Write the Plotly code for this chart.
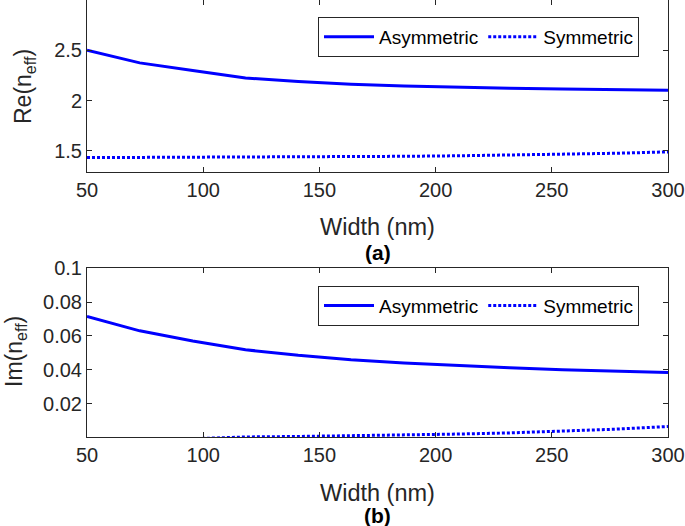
import plotly.graph_objects as go

width_nm = [50, 72.7, 95.5, 118.2, 140.9, 163.6, 186.4, 209.1, 231.8, 254.5, 277.3, 300]
re_asym = [2.50, 2.375, 2.30, 2.225, 2.19, 2.163, 2.145, 2.132, 2.122, 2.115, 2.108, 2.103]
re_sym = [1.433, 1.434, 1.435, 1.437, 1.439, 1.442, 1.446, 1.451, 1.457, 1.465, 1.476, 1.49]
im_asym = [0.0715, 0.063, 0.057, 0.0518, 0.0485, 0.0459, 0.0440, 0.0424, 0.0411, 0.0400, 0.0391, 0.0384]
im_sym = [-0.003, -0.002, -0.001, 0.0002, 0.0005, 0.0009, 0.0013, 0.0019, 0.0026, 0.0035, 0.0048, 0.0064]

x_ticks = [50, 100, 150, 200, 250, 300]
re_ticks = [1.5, 2, 2.5]
im_ticks = [0.02, 0.04, 0.06, 0.08, 0.1]

W, H = 685, 526
BLUE = "#0000ff"
AX = "#262626"
FONT = "Liberation Sans, Arial, Helvetica, sans-serif"
SOLID = dict(color=BLUE, width=3)
DOTTED = dict(color=BLUE, width=3, dash="3px,2px")

def px_x(p):
    return p / W

def px_y(p):
    return 1 - p / H

fig = go.Figure()
fig.add_trace(go.Scatter(x=width_nm, y=re_asym, mode="lines", name="Asymmetric",
                         line=SOLID, xaxis="x", yaxis="y", legend="legend"))
fig.add_trace(go.Scatter(x=width_nm, y=re_sym, mode="lines", name="Symmetric",
                         line=DOTTED, xaxis="x", yaxis="y", legend="legend"))
fig.add_trace(go.Scatter(x=width_nm, y=im_asym, mode="lines", name="Asymmetric",
                         line=SOLID, xaxis="x2", yaxis="y2", legend="legend2"))
fig.add_trace(go.Scatter(x=width_nm, y=im_sym, mode="lines", name="Symmetric",
                         line=DOTTED, xaxis="x2", yaxis="y2", legend="legend2"))

xdom = [px_x(87), px_x(668)]
axis_common = dict(showline=True, linecolor=AX, linewidth=1, mirror="allticks",
                   ticks="inside", ticklen=5, tickcolor=AX, tickwidth=1,
                   showgrid=False, zeroline=False, automargin=False,
                   tickfont=dict(size=20, color=AX, family=FONT))

legend_common = dict(orientation="h", xanchor="left", yanchor="top",
                     bordercolor=AX, borderwidth=1, bgcolor="white",
                     font=dict(size=19, color="black", family=FONT), itemwidth=50)

fig.update_layout(
    width=W, height=H, autosize=False,
    margin=dict(l=0, r=0, t=0, b=0),
    paper_bgcolor="white", plot_bgcolor="white",
    font=dict(family=FONT, color=AX),
    xaxis=dict(domain=xdom, range=[50, 300], tickvals=x_ticks, anchor="y", **axis_common),
    yaxis=dict(domain=[px_y(172), 1], range=[1.29, 3.0], tickvals=re_ticks, anchor="x", **axis_common),
    xaxis2=dict(domain=xdom, range=[50, 300], tickvals=x_ticks, anchor="y2", **axis_common),
    yaxis2=dict(domain=[px_y(437.3), px_y(268.3)], range=[0, 0.1], tickvals=im_ticks,
                ticktext=["0.02", "0.04", "0.06", "0.08", "0.1"], anchor="x2", **axis_common),
    legend=dict(x=px_x(318), y=px_y(17), **legend_common),
    legend2=dict(x=px_x(318), y=px_y(285.7), **legend_common),
    showlegend=True,
)

xc = px_x(377.5)
ann = [
    dict(text="Width (nm)", x=xc, y=px_y(227), size=23.5, bold=False, angle=0),
    dict(text="<b>(a)</b>", x=xc, y=px_y(252.5), size=21, bold=True, angle=0),
    dict(text="Width (nm)", x=xc, y=px_y(493), size=23.5, bold=False, angle=0),
    dict(text="<b>(b)</b>", x=xc, y=px_y(515), size=21, bold=True, angle=0),
    dict(text="Re(n<sub>eff</sub>)", x=px_x(25), y=px_y(86), size=23, bold=False, angle=-90),
    dict(text="Im(n<sub>eff</sub>)", x=px_x(15), y=px_y(352), size=23, bold=False, angle=-90),
]
for a in ann:
    fig.add_annotation(text=a["text"], x=a["x"], y=a["y"], xref="paper", yref="paper",
                       xanchor="center", yanchor="middle", showarrow=False, textangle=a["angle"],
                       font=dict(size=a["size"], color=AX if not a["bold"] else "black", family=FONT))

fig.write_html("out.html", config={"displayModeBar": False},
               post_script="document.body.style.margin='0';document.body.style.overflow='hidden';")
